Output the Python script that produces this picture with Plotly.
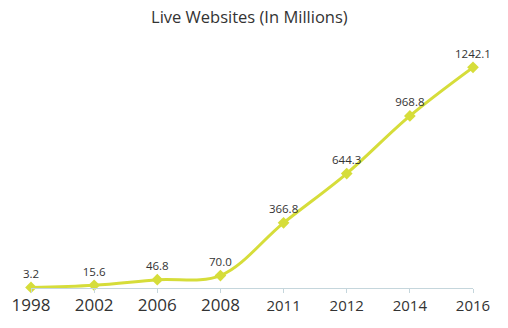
import plotly.graph_objects as go

# Live websites per year, in millions
years = ["1998", "2002", "2006", "2008", "2011", "2012", "2014", "2016"]
websites = [3.2, 15.6, 46.8, 70.0, 366.8, 644.3, 968.8, 1242.1]
value_labels = ["3.2", "15.6", "46.8", "70.0", "366.8", "644.3", "968.8", "1242.1"]

LINE = "#d6dd3a"
AXIS = "#c5d6dc"
TEXT = "#333333"
FONT = "Open Sans, Lato, sans-serif"

# first four year labels are set a bit larger
tick_text = [
    f'<span style="font-size:17px">{y}</span>' if i < 4 else y
    for i, y in enumerate(years)
]

fig = go.Figure(
    go.Scatter(
        x=years,
        y=websites,
        mode="lines+markers+text",
        line=dict(color=LINE, width=3, shape="spline", smoothing=1.0),
        marker=dict(symbol="diamond", size=9, color=LINE),
        text=value_labels,
        textposition="top center",
        textfont=dict(family=FONT, size=11.5, color=TEXT),
        cliponaxis=False,
        hoverinfo="skip",
    )
)

fig.update_layout(
    width=508,
    height=328,
    margin=dict(l=27, r=35, t=40, b=37),
    paper_bgcolor="white",
    plot_bgcolor="white",
    showlegend=False,
    title=dict(
        text="Live Websites (In Millions)",
        font=dict(family=FONT, size=16.5, color=TEXT),
        x=0.494,
        xanchor="center",
        xref="paper",
        y=1 - 17 / 328,
        yanchor="middle",
        yref="container",
    ),
    xaxis=dict(
        type="category",
        range=[0, len(years) - 1],
        tickvals=years,
        ticktext=tick_text,
        showline=True,
        linecolor=AXIS,
        linewidth=1,
        ticks="outside",
        ticklen=4,
        tickcolor=AXIS,
        showgrid=False,
        zeroline=False,
        tickfont=dict(family=FONT, size=15, color=TEXT),
        fixedrange=True,
    ),
    yaxis=dict(
        range=[0, 1396],
        visible=False,
        showgrid=False,
        zeroline=False,
        fixedrange=True,
    ),
)

fig.write_html("out.html")
